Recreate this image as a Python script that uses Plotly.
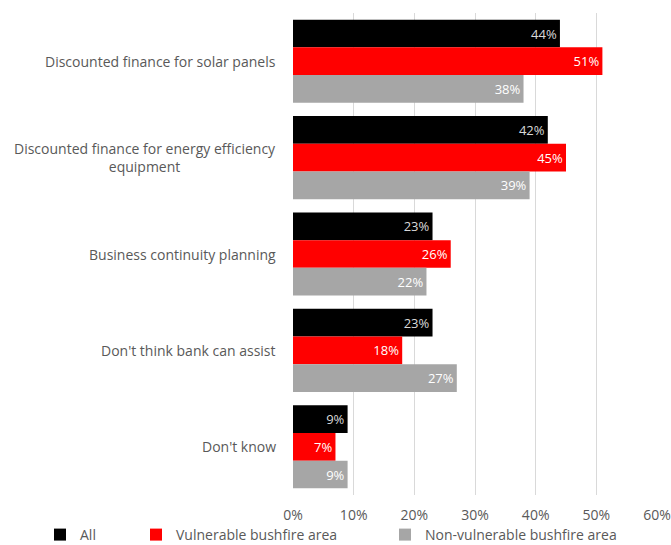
import plotly.graph_objects as go

categories = [
    "Discounted finance for solar panels",
    "Discounted finance for energy efficiency<br>equipment",
    "Business continuity planning",
    "Don't think bank can assist",
    "Don't know",
]
series_names = ["All", "Vulnerable bushfire area", "Non-vulnerable bushfire area"]
all_vals = [44, 42, 23, 23, 9]
vulnerable_vals = [51, 45, 26, 18, 7]
non_vulnerable_vals = [38, 39, 22, 27, 9]
tick_vals = [0, 10, 20, 30, 40, 50, 60]
tick_text = ["0%", "10%", "20%", "30%", "40%", "50%", "60%"]

colors = ["#000000", "#ff0000", "#a6a6a6"]
label_colors = ["#d9d9d9", "#ffffff", "#ffffff"]
FONT = "'Open Sans', Lato, sans-serif"
TEXT_GREY = "#595959"

fig = go.Figure()
for name, vals, col, lcol, lg in zip(
        series_names, [all_vals, vulnerable_vals, non_vulnerable_vals],
        colors, label_colors, ["legend", "legend2", "legend3"]):
    fig.add_trace(go.Bar(
        name=name, y=categories, x=vals, orientation="h",
        marker=dict(color=col, line=dict(width=0)),
        text=[f"{v}%" for v in vals], textposition="inside",
        insidetextanchor="end", textangle=0,
        textfont=dict(color=lcol, size=13, family=FONT),
        legend=lg,
    ))

# category labels, centred multi-line and right-aligned to the axis
for c in categories:
    fig.add_annotation(
        x=-0.04, xref="paper", y=c, yref="y", text=c, showarrow=False,
        xanchor="right", yanchor="middle", align="center",
        font=dict(size=14, color=TEXT_GREY, family=FONT),
    )

legend_common = dict(orientation="h", yanchor="middle", xanchor="left",
                     xref="container", yref="container", y=10 / 545,
                     bgcolor="rgba(0,0,0,0)",
                     font=dict(size=14, color=TEXT_GREY, family=FONT),
                     itemwidth=30)
fig.update_layout(
    width=671, height=545,
    margin=dict(l=293, r=14, t=13, b=50, autoexpand=False),
    paper_bgcolor="white", plot_bgcolor="white",
    barmode="group", bargap=0.138, bargroupgap=0,
    showlegend=True,
    legend=dict(x=40 / 671, **legend_common),
    legend2=dict(x=136 / 671, **legend_common),
    legend3=dict(x=385 / 671, **legend_common),
    xaxis=dict(range=[0, 60], tickvals=tick_vals, ticktext=tick_text,
               showgrid=True, gridcolor="#d9d9d9", gridwidth=1,
               zeroline=False, showline=False, ticks="",
               ticklabelstandoff=10,
               tickfont=dict(size=14, color=TEXT_GREY, family=FONT)),
    yaxis=dict(autorange="reversed", showticklabels=False, showgrid=False,
               zeroline=False, showline=False, ticks=""),
)

fig.write_html("out.html")
